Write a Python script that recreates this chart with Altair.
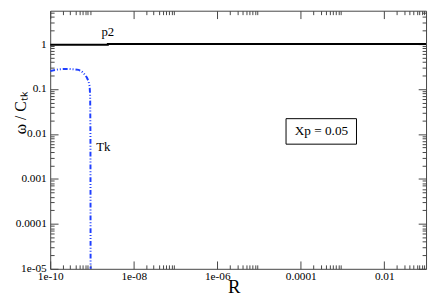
import math
import altair as alt
import pandas as pd

# ---- data ----
p2_R = [1e-10, 2.4e-9, 2.4e-9, 0.1]
p2_val = [0.965, 0.965, 1.0, 1.0]

tk_R = [1.0e-10, 1.3e-10, 1.63e-10, 2.2e-10, 2.8e-10, 3.8e-10, 4.8e-10, 5.6e-10,
        6.3e-10, 7.0e-10, 7.55e-10, 8.3e-10, 8.8e-10, 9.05e-10, 9.2e-10, 9.3e-10]
tk_val = [0.25, 0.265, 0.275, 0.28, 0.28, 0.275, 0.267, 0.25,
          0.225, 0.2, 0.18, 0.148, 0.115, 0.07, 0.01, 1e-6]

curve_labels = ["p2", "Tk"]
curve_label_R = [2.4e-9, 1.86e-9]
curve_label_val = [1.83, 0.0051]

box_text = ["Xp = 0.05"]
box_R = [4.44e-5]
box_R2 = [2.16e-3]
box_y = [0.0219]
box_y2 = [0.00593]
box_text_R = [3.12e-4]
box_text_y = [0.0114]

x_major = [1e-10, 1e-8, 1e-6, 1e-4, 1e-2]
x_labels = ["1e-10", "1e-08", "1e-06", "0.0001", "0.01"]
x_minor = [k * 10.0 ** d for d in (-10, -8, -6, -4, -2) for k in range(2, 10)]

y_major = [1e-5, 1e-4, 1e-3, 1e-2, 1e-1, 1.0]
y_labels = ["1e-05", "0.0001", "0.001", "0.01", "0.1", "1"]
y_minor = [k * 10.0 ** d for d in range(-5, 1) for k in range(2, 10) if k * 10.0 ** d <= 5.5]

x_domain = [1e-10, 0.1]
y_domain = [1e-5, 5.52]


def label_expr(vals, labels):
    parts = [f"abs(log(datum.value)/LN10 - ({math.log10(v):.6f})) < 0.01 ? '{l}'"
             for v, l in zip(vals, labels)]
    return " : ".join(parts) + " : ''"


FONT = "Liberation Serif"
TICK = "#444"

xs = alt.Scale(type="log", domain=x_domain)
ys = alt.Scale(type="log", domain=y_domain)

p2_df = pd.DataFrame({"R": p2_R, "v": p2_val})
tk_df = pd.DataFrame({"R": tk_R, "v": tk_val})
lab_df = pd.DataFrame({"R": curve_label_R, "v": curve_label_val, "t": curve_labels})
box_df = pd.DataFrame({"R": box_R, "R2": box_R2, "v": box_y, "v2": box_y2})
boxt_df = pd.DataFrame({"R": box_text_R, "v": box_text_y, "t": box_text})


def tick_axis(orient, vals, size, offset):
    return alt.Axis(orient=orient, values=vals, tickSize=size, offset=offset,
                    labels=False, domain=False, grid=False, title="",
                    tickColor=TICK, tickWidth=1)


# layer 1: p2 with bottom/left major ticks + labels + titles
p2_line = alt.Chart(p2_df).mark_line(color="black", strokeWidth=2, clip=True).encode(
    x=alt.X("R:Q", scale=xs, axis=alt.Axis(
        orient="bottom", values=x_major, tickSize=8, offset=-8, domain=False, grid=False,
        labelExpr=label_expr(x_major, x_labels), labelFont=FONT, labelFontSize=11.5,
        labelColor="black", labelPadding=2, labelFlush=False,
        tickColor=TICK, tickWidth=1,
        title="R", titleFont=FONT, titleFontSize=19, titleFontWeight="normal",
        titleColor="black", titleX=187, titleY=32, titleBaseline="alphabetic",
        titleAlign="center")),
    y=alt.Y("v:Q", scale=ys, axis=alt.Axis(
        orient="left", values=y_major, tickSize=8, offset=-8, domain=False, grid=False,
        labelExpr=label_expr(y_major, y_labels), labelFont=FONT, labelFontSize=11.5,
        labelColor="black", labelPadding=4,
        tickColor=TICK, tickWidth=1,
        title="ω / Cₜₖ", titleFont=FONT, titleFontSize=16, titleFontWeight="normal",
        titleColor="black", titleX=-38, titleY=104, titleBaseline="middle",
        titleAlign="center", titleAngle=270)),
)

# layer 2: Tk with bottom/left minor ticks
tk_line = alt.Chart(tk_df).mark_line(color="#1f3fff", strokeWidth=2, clip=True,
                                     strokeDash=[5, 2, 1, 2, 1, 2]).encode(
    x=alt.X("R:Q", scale=xs, axis=tick_axis("bottom", x_minor, 4, -4)),
    y=alt.Y("v:Q", scale=ys, axis=tick_axis("left", y_minor, 4, -4)),
)

# layer 3: top/right major ticks
top_major = alt.Chart(p2_df).mark_line(opacity=0).encode(
    x=alt.X("R:Q", scale=xs, axis=tick_axis("top", x_major, 8, -8)),
    y=alt.Y("v:Q", scale=ys, axis=tick_axis("right", y_major, 8, -8)),
)

# layer 4: top/right minor ticks
top_minor = alt.Chart(p2_df).mark_line(opacity=0).encode(
    x=alt.X("R:Q", scale=xs, axis=tick_axis("top", x_minor, 4, -4)),
    y=alt.Y("v:Q", scale=ys, axis=tick_axis("right", y_minor, 4, -4)),
)

labels = alt.Chart(lab_df).mark_text(font=FONT, fontSize=13, color="black",
                                     align="center", baseline="middle").encode(
    x=alt.X("R:Q", scale=xs, axis=None),
    y=alt.Y("v:Q", scale=ys, axis=None),
    text="t:N",
)

box = alt.Chart(box_df).mark_rect(fill="white", stroke="black", strokeWidth=1).encode(
    x=alt.X("R:Q", scale=xs, axis=None),
    x2="R2:Q",
    y=alt.Y("v:Q", scale=ys, axis=None),
    y2="v2:Q",
)

box_label = alt.Chart(boxt_df).mark_text(font=FONT, fontSize=13.5, color="black",
                                         align="center", baseline="middle").encode(
    x=alt.X("R:Q", scale=xs, axis=None),
    y=alt.Y("v:Q", scale=ys, axis=None),
    text="t:N",
)

chart = alt.layer(p2_line, tk_line, top_major, top_minor, box, box_label, labels).resolve_axis(
    x="independent", y="independent"
).properties(
    width=383, height=263,
    autosize=alt.AutoSizeParams(type="none"),
    padding={"left": 43, "top": 0, "right": 3, "bottom": 29},
    background="white",
).configure_view(stroke=TICK, strokeWidth=1).configure_axis(
    labelFont=FONT, titleFont=FONT
).configure_text(font=FONT)

chart.save("out.html", embed_options={"renderer": "svg", "actions": False})
